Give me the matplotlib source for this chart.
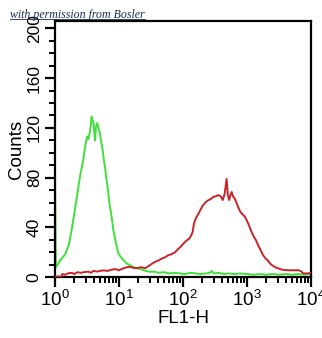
import matplotlib
matplotlib.use("Agg")
import matplotlib.pyplot as plt
from matplotlib.ticker import LogLocator, MultipleLocator, FixedLocator
from matplotlib.lines import Line2D

# =========================
# DATA (log10 of FL1-H channel, counts)
# =========================
green_log = [0.00, 0.012, 0.04, 0.08, 0.12, 0.16, 0.20, 0.22, 0.24, 0.26, 0.28,
             0.30, 0.32, 0.34, 0.36, 0.38, 0.40, 0.43, 0.45, 0.47, 0.50, 0.52,
             0.54, 0.56, 0.57, 0.58, 0.60, 0.61, 0.625, 0.64, 0.66, 0.68, 0.70,
             0.72, 0.745, 0.76, 0.78, 0.80, 0.82, 0.85, 0.885, 0.91, 0.94, 0.97,
             0.99, 1.03, 1.07, 1.12, 1.17, 1.23, 1.30, 1.36, 1.42, 1.48, 1.55,
             1.62, 1.70, 1.78, 1.86, 1.95, 2.03, 2.12, 2.20, 2.28, 2.36, 2.42,
             2.45, 2.48, 2.55, 2.64, 2.72, 2.80, 2.90, 3.00, 3.10, 3.20, 3.30,
             3.40, 3.50, 3.60, 3.70, 3.80, 3.90, 3.96, 4.00]
green_counts = [80, 8, 10, 13.6, 16, 18.5, 24, 27, 33, 38, 45,
                51, 58, 64, 71, 78, 84, 91.5, 98, 105, 113, 111,
                116, 122, 129, 126, 125, 118, 110, 121, 124, 119, 116,
                109, 102, 95, 88.6, 80, 72.5, 59, 48, 38, 30, 23,
                19, 16, 13.7, 11, 9.6, 8, 7, 6, 5, 4.3, 4.5,
                3.5, 4, 3, 3.5, 3, 2.5, 3.5, 3, 2.5, 3, 3.5,
                5, 3, 3.5, 2.5, 3, 2.5, 3, 2.5, 2, 2.5, 2,
                2.5, 2, 2.5, 2, 2.5, 2, 2.5, 3]

red_log = [0.00, 0.10, 0.11, 0.16, 0.20, 0.26, 0.30, 0.35, 0.40, 0.45, 0.52,
           0.56, 0.60, 0.66, 0.70, 0.76, 0.82, 0.88, 0.94, 1.00, 1.06, 1.12,
           1.17, 1.22, 1.28, 1.34, 1.41, 1.48, 1.52, 1.56, 1.62, 1.67, 1.72,
           1.77, 1.82, 1.875, 1.91, 1.95, 1.99, 2.03, 2.07, 2.10, 2.13, 2.15,
           2.17, 2.19, 2.21, 2.24, 2.27, 2.30, 2.33, 2.37, 2.40, 2.44, 2.47,
           2.51, 2.55, 2.59, 2.62, 2.65, 2.68, 2.70, 2.72, 2.74, 2.76, 2.78,
           2.81, 2.84, 2.86, 2.89, 2.92, 2.97, 3.00, 3.02, 3.05, 3.07, 3.10,
           3.14, 3.17, 3.20, 3.25, 3.29, 3.32, 3.36, 3.39, 3.44, 3.49, 3.55,
           3.62, 3.70, 3.80, 3.85, 3.88, 3.95, 4.00]
red_counts = [0.5, 0.5, 2.5, 2, 3, 3.5, 2.5, 4, 3.5, 4, 4.5,
              3.5, 5, 4.5, 5, 5.5, 5, 6, 6.5, 5.5, 7, 8,
              8.3, 7.5, 7.2, 8, 7.2, 9.6, 11, 12.3, 13.5, 15, 16,
              17.7, 18.5, 20, 22, 23.8, 26, 28.4, 30, 31, 34, 36.4,
              43, 46, 48.4, 51, 54, 57, 59, 61, 62, 63, 64.5,
              65, 66, 65, 62, 67, 79, 66, 62, 66, 68.5, 65,
              63, 59, 56.5, 53, 51, 48.4, 45, 43, 39, 36.4, 33,
              29.7, 26, 23, 17.7, 15, 13.7, 11, 9.6, 8, 7, 6,
              5.6, 5.5, 5.6, 4.5, 3, 3, 3.5]

y_ticks = [0, 40, 80, 120, 160, 200]
x_ticks = [1, 10, 100, 1000, 10000]
x_ticklabels = [r"$10^{0}$", r"$10^{1}$", r"$10^{2}$", r"$10^{3}$", r"$10^{4}$"]

# =========================
# STYLE
# =========================
plt.rcParams['font.family'] = ['Liberation Sans', 'DejaVu Sans']
plt.rcParams['mathtext.fontset'] = 'custom'
plt.rcParams['mathtext.rm'] = 'Liberation Sans'
plt.rcParams['mathtext.it'] = 'Liberation Sans:italic'

fig = plt.figure(figsize=(3.22, 3.38), dpi=100)
ax = fig.add_axes([0.171, 0.180, 0.795, 0.758])

ax.plot([10 ** v for v in green_log], green_counts, color='#3fe03a', lw=1.4, zorder=2)
ax.plot([10 ** v for v in red_log], red_counts, color='#c8242a', lw=1.4, zorder=3)

ax.set_xscale('log')
ax.set_xlim(1, 10000)
ax.set_ylim(0, 206)

ax.xaxis.set_major_locator(FixedLocator(x_ticks))
ax.set_xticklabels(x_ticklabels)
ax.xaxis.set_minor_locator(LogLocator(base=10, subs=range(2, 10), numticks=20))
ax.yaxis.set_major_locator(FixedLocator(y_ticks))
ax.yaxis.set_minor_locator(MultipleLocator(10))

ax.tick_params(axis='both', which='major', direction='out', length=7.5, width=1.6,
               labelsize=13.5, color='black')
ax.tick_params(axis='both', which='minor', direction='out', length=4.5, width=1.4)
ax.tick_params(axis='x', which='major', pad=1.5)
ax.tick_params(axis='y', which='major', pad=2, labelsize=12.5)
for lab in ax.get_yticklabels():
    lab.set_rotation(90)
    lab.set_va('center')

for s in ax.spines.values():
    s.set_linewidth(1.6)

ax.set_xlabel('FL1-H', fontsize=13.5, labelpad=0)
ax.set_ylabel('Counts', fontsize=13.5, labelpad=1)

# watermark
wm = fig.text(0.031, 0.948, 'with permission from Bosler', fontsize=8.6,
              family='Liberation Serif', style='italic', color='#1c2a55', zorder=10)
fig.canvas.draw()
bb = wm.get_window_extent().transformed(fig.transFigure.inverted())
fig.add_artist(Line2D([bb.x0, bb.x1], [bb.y0 + 0.004, bb.y0 + 0.004],
                      transform=fig.transFigure, color='#1c2a55', lw=0.6))

plt.savefig("out.png", dpi=100)
